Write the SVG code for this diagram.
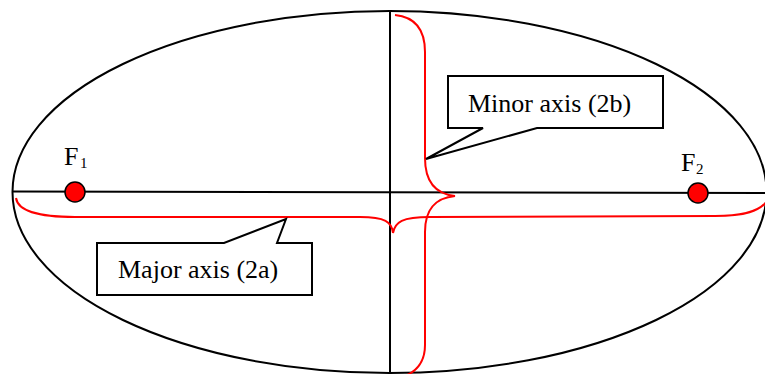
<svg xmlns="http://www.w3.org/2000/svg" width="765" height="374" viewBox="0 0 765 374">
<style>
.blk{fill:none;stroke:#000;stroke-width:2}
.red{fill:none;stroke:#f00;stroke-width:2}
.call{fill:#fff;stroke:#000;stroke-width:2;stroke-linejoin:miter}
.dot{fill:#f00;stroke:#000;stroke-width:1.5}
text{font-family:'Liberation Serif','Times New Roman',Times,'DejaVu Serif',serif;fill:#000}
.lbl{font-size:26px}
.sub{font-size:15px}
</style>
<rect width="765" height="374" fill="#fff"/>
<g id="ellipse">
<ellipse class="blk" cx="389.5" cy="192" rx="377" ry="181"/>
</g>
<g id="connectors">
<line class="blk" x1="13" y1="191.5" x2="765" y2="193"/>
<line class="blk" x1="390" y1="11" x2="390" y2="374"/>
<path id="major-brace" class="red" d="M16,198 C18,212 40,217 75,217 L360,217 C385,217 392,222 393,233 C395,222 402,217 430,217 L715,216 C745,216 760,211 767,201"/>
<path id="minor-brace" class="red" d="M395,15 C415,17 425,30 425,52 L425,158 C425,182 436,194 455,196 C436,198 425,208 425,232 L425,345 C425,362 417,371 405,376"/>
</g>
<g id="F1">
<circle class="dot" cx="75" cy="192" r="10"/>
<text class="lbl" x="64" y="165">F</text><text class="sub" x="80" y="168">1</text>
</g>
<g id="F2">
<circle class="dot" cx="698" cy="193" r="10"/>
<text class="lbl" x="681" y="170.5">F</text><text class="sub" x="696" y="174">2</text>
</g>
<g id="minor-label">
<polygon class="call" points="448,76 663,76 663,128 537,128 426,159 483,128 448,128"/>
<text class="lbl" x="468" y="112">Minor axis (2b)</text>
</g>
<g id="major-label">
<polygon class="call" points="97,243 224,243 286,219 277,243 312,243 312,295 97,295"/>
<text class="lbl" x="118" y="278">Major axis (2a)</text>
</g>
</svg>
